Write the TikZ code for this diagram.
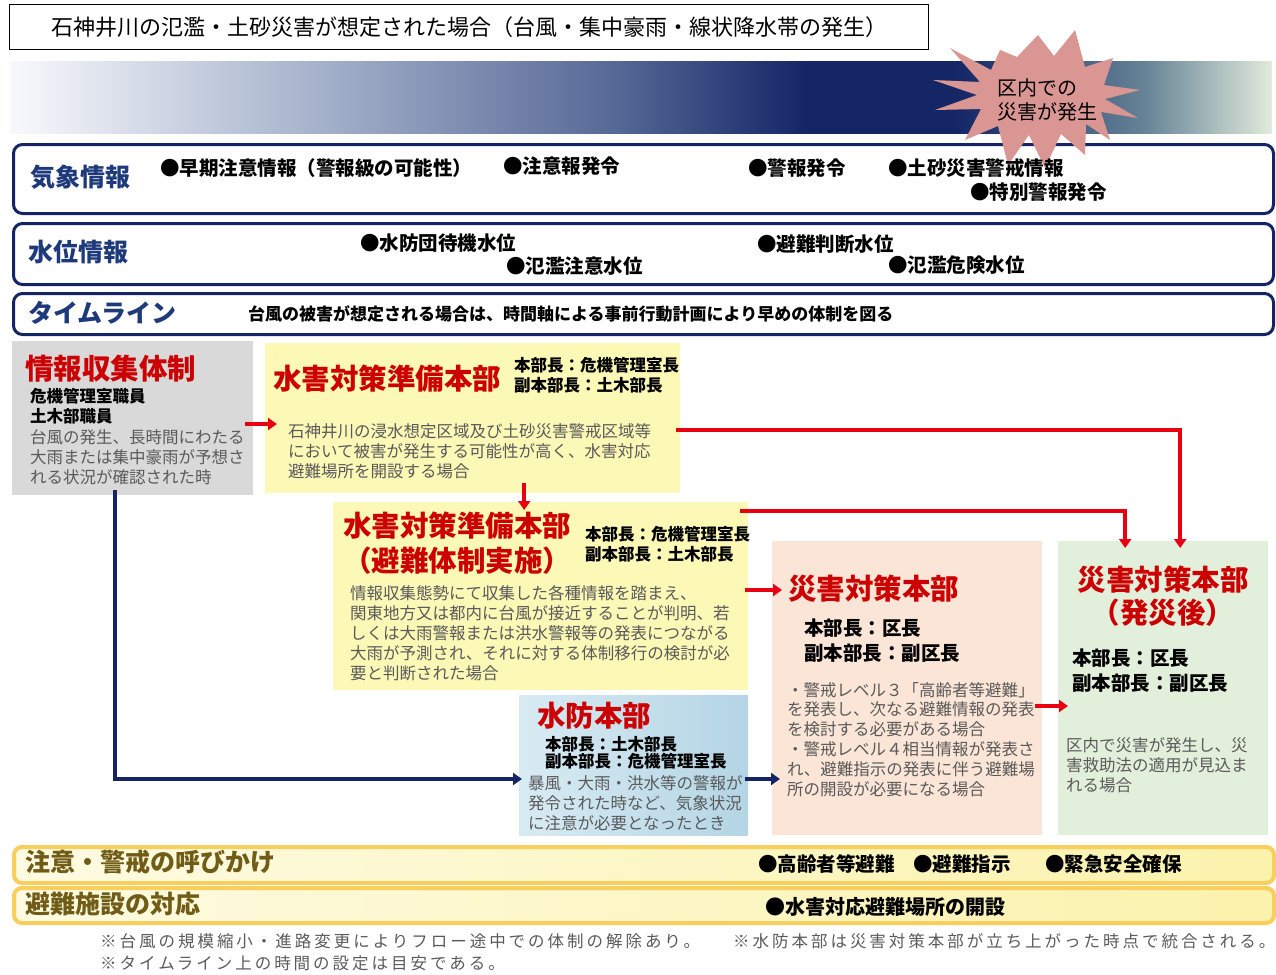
\documentclass[tikz,border=0pt]{standalone}
\usepackage{fontspec}
\setmainfont{Noto Sans CJK JP}
\newfontfamily\jpspaced[LetterSpace=18]{Noto Sans CJK JP}
\usetikzlibrary{arrows.meta, calc}

\definecolor{navy}{RGB}{20,36,100}
\definecolor{navylabel}{RGB}{30,58,122}
\definecolor{titlered}{RGB}{204,0,0}
\definecolor{arrowred}{RGB}{232,0,18}
\definecolor{notegray}{RGB}{90,90,90}
\definecolor{boxgray}{RGB}{217,217,217}
\definecolor{boxyellow}{RGB}{252,248,182}
\definecolor{boxpeach}{RGB}{251,229,214}
\definecolor{boxgreen}{RGB}{226,239,218}
\definecolor{boxblueL}{RGB}{216,235,243}
\definecolor{boxblueR}{RGB}{180,213,229}
\definecolor{burst}{RGB}{218,150,146}
\definecolor{bandgold}{RGB}{248,206,92}
\definecolor{bandcream}{RGB}{254,251,226}
\definecolor{bandyellow}{RGB}{251,242,172}
\definecolor{olive}{RGB}{112,92,22}
\definecolor{gradA}{RGB}{248,249,252}
\definecolor{gradB}{RGB}{170,182,206}
\definecolor{gradC}{RGB}{86,104,150}
\definecolor{gradD}{RGB}{20,38,102}
\definecolor{gradE}{RGB}{102,132,150}
\definecolor{gradF}{RGB}{226,235,220}

\pgfdeclarehorizontalshading{skyband}{100bp}{color(0bp)=(gradA); color(25bp)=(gradA);
  color(36.5bp)=(gradB); color(49bp)=(gradC); color(56.5bp)=(gradD); color(62.5bp)=(gradD);
  color(70bp)=(gradE); color(75bp)=(gradF); color(100bp)=(gradF)}

\tikzset{
  rowbox/.style={draw=navy, line width=3pt, rounded corners=9pt, fill=white, anchor=north west, inner sep=0, minimum width=1260pt},
  rowlabel/.style={anchor=west, inner sep=0, text=navylabel, font=\fontsize{25}{25}\selectfont\bfseries},
  item/.style={anchor=west, inner sep=0, font=\fontsize{19.5}{19.5}\selectfont\bfseries},
  flowbox/.style={anchor=north west, inner sep=0},
  redtitle/.style={anchor=west, inner sep=0, text=titlered, font=\fontsize{28.5}{28.5}\selectfont\bfseries},
  chief/.style={anchor=north west, inner sep=0, align=left, font=\fontsize{16.5}{20}\selectfont\bfseries},
  bigchief/.style={anchor=north west, inner sep=0, align=left, font=\fontsize{19.5}{25}\selectfont\bfseries},
  note/.style={anchor=north west, inner sep=0, align=left, text=notegray, font=\fontsize{16.5}{20}\selectfont},
  bandbox/.style={draw=bandgold, line width=4pt, rounded corners=8pt, left color=bandcream, right color=bandyellow, anchor=north west, inner sep=0, minimum width=1260pt},
  bandlabel/.style={anchor=west, inner sep=0, text=olive, font=\fontsize{25}{25}\selectfont\bfseries},
  footnote/.style={anchor=west, inner sep=0, text=notegray, font=\fontsize{16.5}{16.5}\jpspaced},
  redarr/.style={draw=arrowred, line width=3.5pt, -{Triangle[length=9pt,width=12pt]}},
  navyarr/.style={draw=navy, line width=3.5pt, -{Triangle[length=9pt,width=12pt]}}
}

\begin{document}
\begin{tikzpicture}[x=1pt, y=-1pt]
\useasboundingbox (0,0) rectangle (1276,974);

\node[draw, line width=1.2pt, anchor=north west, minimum width=919pt, minimum height=45pt, inner sep=0, font=\fontsize{22}{22}\selectfont] (ttl) at (9,4) {石神井川の氾濫・土砂災害が想定された場合（台風・集中豪雨・線状降水帯の発生）};

\shade[shading=skyband] (10,62) rectangle (1272,133);

\node[rowbox, minimum height=69pt] (wx) at (12,143) {};
\node[rowbox, minimum height=61pt] (wl) at (12,222) {};
\node[rowbox, minimum height=41pt] (tl) at (12,292) {};

\fill[burst] (1075,30) -- (1085,67) -- (1113,58) -- (1104,85) -- (1140,90) -- (1105,99)
  -- (1138,118) -- (1101,112) -- (1110,140) -- (1086,124) -- (1085,155) -- (1061,134)
  -- (1045,168) -- (1029,135) -- (1008,165) -- (998,126) -- (965,140) -- (981,109)
  -- (935,110) -- (977,95) -- (933,80) -- (980,82) -- (950,48) -- (991,70)
  -- (1000,50) -- (1017,57) -- (1038,35) -- (1054,56) -- cycle;
\node[anchor=north west, inner sep=0, align=left, font=\fontsize{20}{24}\selectfont] (burstlbl) at (997,78) {区内での\\災害が発生};

\node[rowlabel] (wxlbl) at (30,177) {気象情報};
\node[rowlabel] (wllbl) at (28,252) {水位情報};
\node[rowlabel] (tllbl) at (28,313) {タイムライン};

\foreach \x/\y/\t in {160/168/早期注意情報（警報級の可能性）, 503/166/注意報発令, 748/168/警報発令,
  888/168/土砂災害警戒情報, 970/192/特別警報発令, 360/243/水防団待機水位, 506/266/氾濫注意水位,
  757/244/避難判断水位, 888/265/氾濫危険水位}
  \node[item] at (\x,\y) {●\t};

\node[anchor=west, inner sep=0, font=\fontsize{17}{17}\selectfont\bfseries] (tltxt) at (248,314) {台風の被害が想定される場合は、時間軸による事前行動計画により早めの体制を図る};

\node[flowbox, fill=boxgray, minimum width=241pt, minimum height=154pt] (info) at (12,341) {};
\node[flowbox, fill=boxyellow, minimum width=415pt, minimum height=150pt] (prep) at (265,343) {};
\node[flowbox, fill=boxyellow, minimum width=415pt, minimum height=188pt] (evac) at (333,502) {};
\node[flowbox, fill=boxpeach, minimum width=270pt, minimum height=294pt] (hq) at (772,541) {};
\node[flowbox, fill=boxgreen, minimum width=210pt, minimum height=294pt] (post) at (1058,541) {};
\node[flowbox, left color=boxblueL, right color=boxblueR, minimum width=229pt, minimum height=140pt] (flood) at (519,695) {};

\node[redtitle] (infottl) at (25,369) {情報収集体制};
\node[chief] at (30,388) {危機管理室職員\\土木部職員};
\node[note] at (30,429.5) {台風の発生、長時間にわたる\\大雨または集中豪雨が予想さ\\れる状況が確認された時};

\node[redtitle] (prepttl) at (273,379) {水害対策準備本部};
\node[chief] at (514,357.5) {本部長：危機管理室長\\副本部長：土木部長};
\node[note] at (288,423.5) {石神井川の浸水想定区域及び土砂災害警戒区域等\\において被害が発生する可能性が高く、水害対応\\避難場所を開設する場合};

\node[redtitle, anchor=north west, align=left, font=\fontsize{28.5}{35}\selectfont\bfseries] (evacttl) at (343,512) {水害対策準備本部\\（避難体制実施）};
\node[chief] at (585,526) {本部長：危機管理室長\\副本部長：土木部長};
\node[note] at (350,585) {情報収集態勢にて収集した各種情報を踏まえ、\\関東地方又は都内に台風が接近することが判明、若\\しくは大雨警報または洪水警報等の発表につながる\\大雨が予測され、それに対する体制移行の検討が必\\要と判断された場合};

\node[redtitle] (hqttl) at (788,589) {災害対策本部};
\node[bigchief] at (804,619) {本部長：区長\\副本部長：副区長};
\node[note, font=\fontsize{16.5}{19.8}\selectfont] at (787,682) {・警戒レベル３「高齢者等避難」\\を発表し、次なる避難情報の発表\\を検討する必要がある場合\\・警戒レベル４相当情報が発表さ\\れ、避難指示の発表に伴う避難場\\所の開設が必要になる場合};

\node[redtitle, anchor=north, align=center, font=\fontsize{28.5}{33}\selectfont\bfseries] (postttl) at (1163,566) {災害対策本部\\（発災後）};
\node[bigchief] at (1072,649) {本部長：区長\\副本部長：副区長};
\node[note] at (1066,737) {区内で災害が発生し、災\\害救助法の適用が見込ま\\れる場合};

\node[redtitle] (floodttl) at (537,716) {水防本部};
\node[chief, font=\fontsize{16.5}{17}\selectfont\bfseries] at (545,736) {本部長：土木部長\\副本部長：危機管理室長};
\node[note] at (528,775) {暴風・大雨・洪水等の警報が\\発令された時など、気象状況\\に注意が必要となったとき};

\coordinate (g1) at (0,424);
\coordinate (g2) at (0,430);
\coordinate (g5) at (0,590);
\coordinate (g6) at (0,706);
\coordinate (g7) at (0,779);

\draw[redarr] ($(info.east |- g1)+(-8,0)$) -- ($(prep.west |- g1)+(12,0)$);
\draw[redarr] ($(prep.east |- g2)+(-4,0)$) -| ($(post.north)+(17,7)$);
\draw[redarr] ($(prep.south)+(51.5,-10)$) -- ($(evac.north)+(-16.5,8)$);
\draw[redarr] ($(evac.north east)+(-8,9)$) -| ($(post.north)+(-38,7)$);
\draw[redarr] ($(evac.east |- g5)+(-3,0)$) -- ($(hq.west |- g5)+(10,0)$);
\draw[redarr] ($(hq.east |- g6)+(-7,0)$) -- ($(post.west |- g6)+(10,0)$);
\draw[navyarr] ($(info.south)+(-17.5,-5)$) |- ($(flood.west |- g7)+(3,0)$);
\draw[navyarr] ($(flood.east |- g7)+(-3,0)$) -- ($(hq.west |- g7)+(8,0)$);

\node[bandbox, minimum height=36pt] (call) at (12,845) {};
\node[bandbox, minimum height=35pt] (shel) at (12,886) {};
\node[bandlabel] (calllbl) at (25,862) {注意・警戒の呼びかけ};
\node[bandlabel] (shellbl) at (25,904) {避難施設の対応};
\node[item] at (758,864) {●高齢者等避難};
\node[item] at (913,864) {●避難指示};
\node[item] at (1045,864) {●緊急安全確保};
\node[item, font=\fontsize{20}{20}\selectfont\bfseries] at (765,907) {●水害対応避難場所の開設};

\node[footnote] (fn1) at (100,941) {※台風の規模縮小・進路変更によりフロー途中での体制の解除あり。};
\node[footnote] (fn2) at (100,963) {※タイムライン上の時間の設定は目安である。};
\node[footnote] (fn3) at (733,941) {※水防本部は災害対策本部が立ち上がった時点で統合される。};
\end{tikzpicture}
\end{document}
